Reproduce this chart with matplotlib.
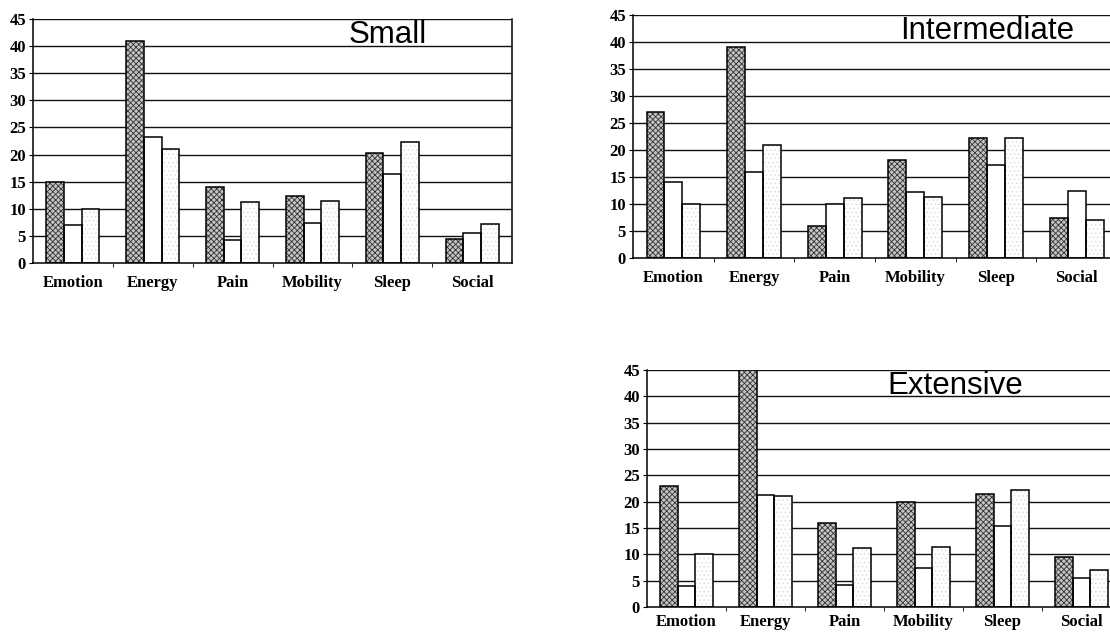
#!/usr/bin/env python3
"""Three scanned-style grouped bar panels: Small / Intermediate / Extensive."""
import matplotlib
matplotlib.use("Agg")
import matplotlib.pyplot as plt
import numpy as np

plt.rcParams["hatch.linewidth"] = 0.6

categories = ["Emotion", "Energy", "Pain", "Mobility", "Sleep", "Social"]
y_ticks = [0, 5, 10, 15, 20, 25, 30, 35, 40, 45]

# three series per panel: dense-dotted, plain white, light-dotted
small_a = [15, 41, 14, 12.3, 20.3, 4.5]
small_b = [7, 23.2, 4.2, 7.4, 16.4, 5.5]
small_c = [10, 21.1, 11.3, 11.4, 22.4, 7.2]

inter_a = [27, 39, 6, 18.1, 22.3, 7.4]
inter_b = [14, 16, 10, 12.3, 17.3, 12.4]
inter_c = [10, 21, 11.2, 11.3, 22.3, 7]

ext_a = [23, 45, 16, 20, 21.4, 9.5]
ext_b = [4, 21.2, 4.2, 7.4, 15.4, 5.5]
ext_c = [10, 21.1, 11.2, 11.3, 22.3, 7]

SERIF = "Liberation Serif"
SANS = "Liberation Sans"

fig = plt.figure(figsize=(11.1, 6.32), dpi=100)
fig.patch.set_facecolor("white")


def draw_panel(rect, title, title_x, a, b, c, label_pad=9):
    ax = fig.add_axes(rect)
    ax.set_xlim(0, 6)
    ax.set_ylim(0, 45)
    x = np.arange(len(categories)) + 0.5
    w = 0.222

    # gridlines behind bars
    for yv in y_ticks[1:]:
        ax.axhline(yv, color="#111111", lw=1.0, zorder=1)

    # dense dotted series
    ax.bar(x - w, a, w, facecolor="#c4c4c4", edgecolor="#333333",
           hatch="xxxxxx", linewidth=0, zorder=2)
    # plain white series
    ax.bar(x, b, w, facecolor="white", linewidth=0, zorder=2)
    # light dotted series
    ax.bar(x + w, c, w, facecolor="white", edgecolor="#dddddd",
           hatch="....", linewidth=0, zorder=2)
    # outlines
    for off, vals in [(-w, a), (0, b), (w, c)]:
        ax.bar(x + off, vals, w, fill=False, edgecolor="black",
               linewidth=1.1, zorder=3)

    ax.set_yticks(y_ticks)
    ax.set_yticklabels([str(t) for t in y_ticks], fontfamily=SERIF,
                       fontweight="bold", fontsize=12)
    ax.set_xticks(x)
    ax.set_xticklabels(categories, fontfamily=SERIF, fontweight="bold",
                       fontsize=12)
    ax.set_xticks(np.arange(1, 6), minor=True)
    ax.tick_params(axis="x", which="major", length=0, pad=label_pad)
    ax.tick_params(axis="x", which="minor", length=3, direction="out")
    ax.tick_params(axis="y", length=3, direction="out", pad=2)
    for s in ax.spines.values():
        s.set_linewidth(1.1)
        s.set_color("black")
    ax.spines["top"].set_visible(False)

    ax.text(title_x, 40.5, title, transform=ax.get_yaxis_transform(),
            ha="center", va="baseline", fontsize=22.5, fontfamily=SANS,
            color="black", zorder=4)
    return ax


draw_panel([0.0297, 0.5839, 0.4316, 0.386], "Small", 0.74,
           small_a, small_b, small_c)
draw_panel([0.5703, 0.5918, 0.436, 0.3845], "Intermediate", 0.731,
           inter_a, inter_b, inter_c)
draw_panel([0.5829, 0.0396, 0.427, 0.375], "Extensive", 0.65,
           ext_a, ext_b, ext_c, label_pad=5)

fig.savefig("out.png", dpi=100, facecolor="white")
